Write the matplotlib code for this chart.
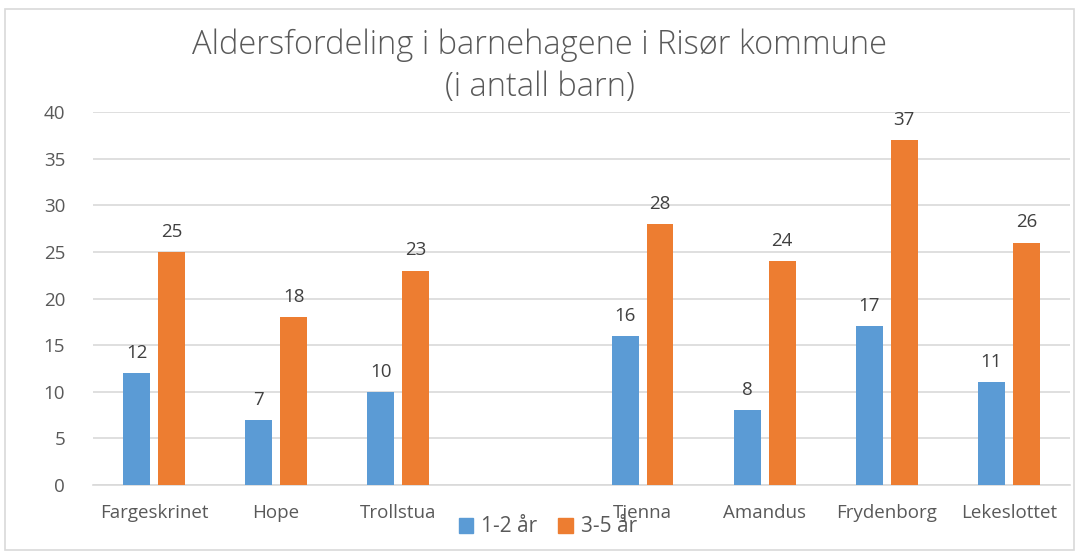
import matplotlib.pyplot as plt
import numpy as np
from matplotlib.patches import Patch, Rectangle

categories = ['Fargeskrinet', 'Hope', 'Trollstua', '', 'Tjenna', 'Amandus', 'Frydenborg', 'Lekeslottet']
young = [12, 7, 10, None, 16, 8, 17, 11]
old = [25, 18, 23, None, 28, 24, 37, 26]
series_names = ['1-2 år', '3-5 år']

blue = '#5b9bd5'
orange = '#ed7d31'
grey = '#595959'

plt.rcParams['font.family'] = ['Open Sans', 'DejaVu Sans']

fig = plt.figure(figsize=(10.79, 5.52), dpi=100)
ax = fig.add_axes([93 / 1079, 1 - 485 / 552, (1070 - 93) / 1079, (485 - 112) / 552])

x = np.arange(len(categories))
w = 0.22
off = 0.143
for i in x:
    if young[i] is None:
        continue
    ax.bar(i - off, young[i], w, color=blue, zorder=3)
    ax.bar(i + off, old[i], w, color=orange, zorder=3)
    ax.text(i - off, young[i] + 1.2, str(young[i]), ha='center', va='bottom', fontsize=13.5, color='#404040')
    ax.text(i + off, old[i] + 1.2, str(old[i]), ha='center', va='bottom', fontsize=13.5, color='#404040')

ax.set_xlim(-0.5, len(categories) - 0.5)
ax.set_ylim(0, 40)
ax.set_yticks(range(0, 41, 5))
ax.set_xticks(x)
ax.set_xticklabels(categories)
ax.yaxis.grid(True, color='#d9d9d9', linewidth=1.2, zorder=0)
ax.tick_params(length=0, labelsize=13.5, colors=grey, pad=14)
ax.tick_params(axis='y', pad=20)
for s in ['top', 'right', 'left']:
    ax.spines[s].set_visible(False)
ax.spines['bottom'].set_color('#d9d9d9')
ax.spines['bottom'].set_linewidth(1.2)

fig.text(0.5, 1 - 66 / 552, 'Aldersfordeling i barnehagene i Risør kommune\n(i antall barn)',
         ha='center', va='center', fontsize=23.5, color=grey, fontweight='light', linespacing=1.35)

handles = [Patch(color=blue), Patch(color=orange)]
fig.legend(handles, series_names, loc='center', bbox_to_anchor=(548 / 1079, 1 - 527 / 552),
           ncol=2, frameon=False, fontsize=15, labelcolor=grey, handlelength=0.7, handleheight=0.7,
           handletextpad=0.4, columnspacing=1.0)

fig.patches.append(Rectangle((5 / 1079, 2 / 552), 1069 / 1079, 541 / 552, transform=fig.transFigure,
                             fill=False, edgecolor='#d9d9d9', linewidth=1.2))

plt.savefig('out.png')
